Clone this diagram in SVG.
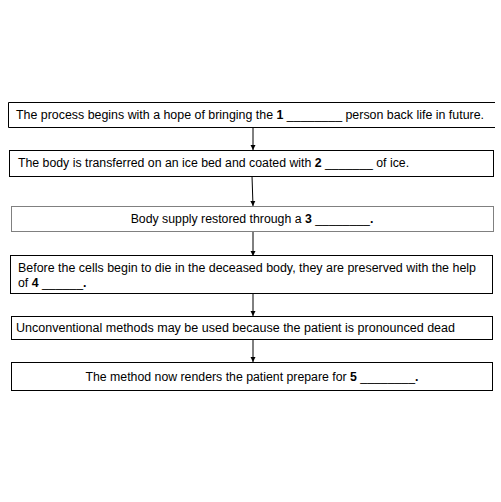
<svg xmlns="http://www.w3.org/2000/svg" width="501" height="502" viewBox="0 0 501 502">
<defs>
<marker id="ah" markerWidth="6" markerHeight="6" refX="5" refY="3" orient="auto" markerUnits="userSpaceOnUse">
<path d="M0,0.5 L5,3 L0,5.5 Z" fill="#000"/>
</marker>
<style>
.box{fill:#fff;stroke:#000;stroke-width:1}
.gbox{fill:#fff;stroke:#808080;stroke-width:1}
.t{font-family:"Liberation Sans",Arial,sans-serif;font-size:12.3px;fill:#000}
.b{font-weight:bold}
.c{stroke:#000;stroke-width:1;fill:none}
</style>
</defs>
<rect width="501" height="502" fill="#fff"/>
<g id="connectors">
<line class="c" x1="253" y1="127" x2="253" y2="150" marker-end="url(#ah)"/>
<line class="c" x1="252" y1="176" x2="253" y2="206" marker-end="url(#ah)"/>
<line class="c" x1="253" y1="231" x2="253" y2="256" marker-end="url(#ah)"/>
<line class="c" x1="253" y1="293" x2="253" y2="316" marker-end="url(#ah)"/>
<line class="c" x1="253" y1="339" x2="253" y2="362" marker-end="url(#ah)"/>
</g>
<g id="n1">
<rect x="8" y="102" width="487" height="25" fill="#fff"/>
<path class="c" d="M495,102.5 H8.5 V127.5 H495"/>
<text class="t" x="16" y="119" textLength="468" lengthAdjust="spacingAndGlyphs">The process begins with a hope of bringing the <tspan class="b">1</tspan> ________ person back life in future.</text>
</g>
<g id="n2">
<rect class="box" x="9.5" y="150.5" width="484" height="26"/>
<text class="t" x="18" y="167">The body is transferred on an ice bed and coated with <tspan class="b">2</tspan> _______ of ice.</text>
</g>
<g id="n3">
<rect class="gbox" x="11.5" y="206.5" width="482" height="25"/>
<text class="t" x="252" y="223" text-anchor="middle">Body supply restored through a <tspan class="b">3</tspan> ________<tspan class="b">.</tspan></text>
</g>
<g id="n4">
<rect class="box" x="10.5" y="255.5" width="482" height="38"/>
<text class="t" x="18" y="272" textLength="458" lengthAdjust="spacingAndGlyphs">Before the cells begin to die in the deceased body, they are preserved with the help</text>
<text class="t" x="18" y="287">of <tspan class="b">4</tspan> ______<tspan class="b">.</tspan></text>
</g>
<g id="n5">
<rect class="box" x="11.5" y="316.5" width="481" height="23"/>
<text class="t" x="16" y="332" textLength="439" lengthAdjust="spacingAndGlyphs">Unconventional methods may be used because the patient is pronounced dead</text>
</g>
<g id="n6">
<rect class="box" x="11.5" y="362.5" width="481" height="28"/>
<text class="t" x="252" y="381" text-anchor="middle">The method now renders the patient prepare for <tspan class="b">5</tspan> ________<tspan class="b">.</tspan></text>
</g>
</svg>
